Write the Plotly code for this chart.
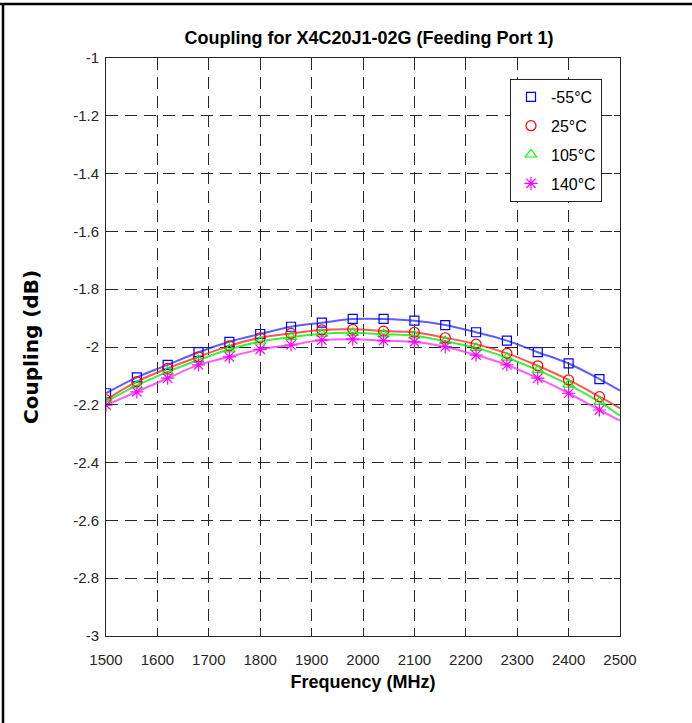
import plotly.graph_objects as go

freq = [1500, 1560, 1620, 1680, 1740, 1800, 1860, 1920, 1980, 2040,
        2100, 2160, 2220, 2280, 2340, 2400, 2460]
freq_end = 2500

cpl_m55 = [-2.160, -2.105, -2.062, -2.018, -1.982, -1.955, -1.930, -1.916, -1.903, -1.903,
           -1.909, -1.924, -1.949, -1.978, -2.018, -2.057, -2.111]
cpl_25 = [-2.183, -2.120, -2.074, -2.034, -1.996, -1.968, -1.953, -1.941, -1.939, -1.945,
          -1.949, -1.968, -1.990, -2.022, -2.065, -2.114, -2.172]
cpl_105 = [-2.190, -2.133, -2.086, -2.045, -2.008, -1.981, -1.966, -1.954, -1.951, -1.956,
           -1.961, -1.980, -2.003, -2.037, -2.080, -2.130, -2.190]
cpl_140 = [-2.201, -2.155, -2.108, -2.062, -2.034, -2.008, -1.993, -1.976, -1.973, -1.978,
           -1.982, -1.999, -2.028, -2.062, -2.108, -2.160, -2.218]
end_vals = [-2.151, -2.212, -2.238, -2.255]

labels = ["-55°C", "25°C", "105°C", "140°C"]
colors = ["#0000ff", "#ff0000", "#00ff00", "#ff00ff"]
line_colors = ["rgba(40,40,255,0.75)", "rgba(255,30,30,0.75)", "rgba(0,230,0,0.75)", "rgba(255,40,255,0.75)"]
symbols = ["square-open", "circle-open", "triangle-up-open", "asterisk-open"]
sizes = [9, 10, 10, 11]

series = [cpl_m55, cpl_25, cpl_105, cpl_140]

xticks = [1500, 1600, 1700, 1800, 1900, 2000, 2100, 2200, 2300, 2400, 2500]
yticks = [-1, -1.2, -1.4, -1.6, -1.8, -2, -2.2, -2.4, -2.6, -2.8, -3]

FONT = "Liberation Sans, Arial, sans-serif"

fig = go.Figure()
for i, vals in enumerate(series):
    fig.add_trace(go.Scatter(
        x=freq + [freq_end], y=vals + [end_vals[i]], mode="lines",
        line=dict(color=line_colors[i], width=2, shape="spline", smoothing=1.0),
        showlegend=False, hoverinfo="skip"))
for i, vals in enumerate(series):
    fig.add_trace(go.Scatter(
        x=freq, y=vals, mode="markers", name=labels[i],
        legendgroup=labels[i],
        marker=dict(symbol=symbols[i], size=sizes[i], color=colors[i],
                    line=dict(color=colors[i], width=1.2))))

ml, mr, mt, mb = 106, 72, 58, 87
W, H = 692, 723
pw, ph = W - ml - mr, H - mt - mb

axis_common = dict(
    showline=True, linecolor="#262626", linewidth=1, mirror="ticks",
    ticks="inside", ticklen=6, tickcolor="#262626",
    showgrid=True, gridcolor="#262626", gridwidth=1, griddash="12px,7px",
    zeroline=False, tickfont=dict(family=FONT, size=15, color="#262626"),
)

fig.update_layout(
    width=W, height=H,
    margin=dict(l=ml, r=mr, t=mt, b=mb, autoexpand=False),
    paper_bgcolor="white", plot_bgcolor="white",
    title=dict(text="<b>Coupling for X4C20J1-02G (Feeding Port 1)</b>",
               x=(ml + pw / 2 + 6) / W, xanchor="center", y=1 - 38 / H, yanchor="middle",
               font=dict(family=FONT, size=18, color="#000000")),
    xaxis=dict(range=[1500, 2500], tickvals=xticks, ticktext=[str(t) for t in xticks],
               ticklabelstandoff=10,
               title=dict(text="<b>Frequency (MHz)</b>", standoff=8,
                          font=dict(family=FONT, size=18, color="#000000")),
               **axis_common),
    yaxis=dict(range=[-3, -1], tickvals=yticks, ticktext=[f"{t:g}" for t in yticks],
               ticklabelstandoff=3,
               title=dict(text="<b>Coupling (dB)</b>", standoff=29,
                          font=dict(family="DejaVu Sans, Liberation Sans, sans-serif", size=20, color="#000000")),
               **axis_common),
    legend=dict(x=(510 - ml) / pw, y=1 - (79 - mt) / ph, xanchor="left", yanchor="top",
                bgcolor="white", bordercolor="#262626", borderwidth=1,
                font=dict(family=FONT, size=16, color="#000000"),
                tracegroupgap=5, itemwidth=30),
    showlegend=True,
)

# outer frame lines (top and left) of the figure
fig.add_shape(type="line", xref="paper", yref="paper",
              x0=(0 - ml) / pw, x1=(W - ml) / pw, y0=1 + (mt - 4) / ph, y1=1 + (mt - 4) / ph,
              line=dict(color="black", width=2.5))
fig.add_shape(type="line", xref="paper", yref="paper",
              x0=(3 - ml) / pw, x1=(3 - ml) / pw, y0=1 + (mt - 3) / ph, y1=-(mb) / ph,
              line=dict(color="black", width=2.5))

fig.write_html("out.html", config={"displayModeBar": False},
               post_script="document.body.style.margin='0';")
